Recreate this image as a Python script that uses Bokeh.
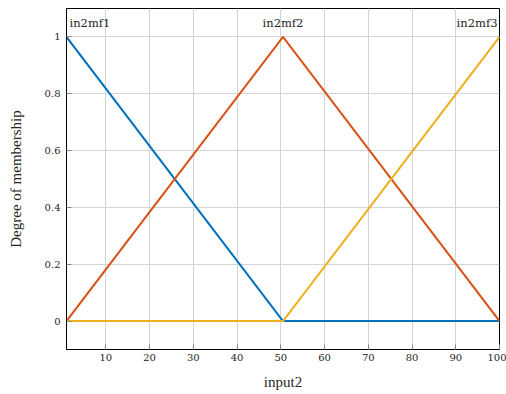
from bokeh.plotting import figure
from bokeh.models import FixedTicker, Range1d, Label
from bokeh.embed import file_html
from bokeh.resources import INLINE

# Data
x_pts = [1, 50.5, 100]
mf1 = [1, 0, 0]
mf2 = [0, 1, 0]
mf3 = [0, 0, 1]
mf_names = ["in2mf1", "in2mf2", "in2mf3"]
mf_peaks = [1, 50.5, 100]
x_ticks = [10, 20, 30, 40, 50, 60, 70, 80, 90, 100]
y_ticks = [0, 0.2, 0.4, 0.6, 0.8, 1]
y_tick_labels = ["0", "0.2", "0.4", "0.6", "0.8", "1"]

colors = ["#0072BD", "#D95319", "#EDB120"]
FONT = "DejaVu Serif"
FONT2 = "Liberation Serif"

p = figure(width=506, height=394, output_backend="svg", toolbar_location=None,
           x_range=Range1d(1, 100), y_range=Range1d(-0.1, 1.1),
           min_border_left=66, min_border_right=7, min_border_top=8, min_border_bottom=45)

for ys, c in zip([mf1, mf2, mf3], colors):
    p.line(x_pts, ys, line_color=c, line_width=2)

aligns = ["left", "center", "right"]
offs = [3, 0, -2]
for name, xp, al, off in zip(mf_names, mf_peaks, aligns, offs):
    p.add_layout(Label(x=xp, y=1.05, text=name, text_align=al, text_baseline="middle",
                       x_offset=off, text_font=FONT, text_font_size="11.5px",
                       text_color="#262626"))

p.xaxis.ticker = FixedTicker(ticks=x_ticks)
p.yaxis.ticker = FixedTicker(ticks=y_ticks)
p.yaxis.major_label_overrides = {t: l for t, l in zip(y_ticks, y_tick_labels)}

for ax in (p.xaxis, p.yaxis):
    ax.major_tick_in = 5
    ax.major_tick_out = 0
    ax.minor_tick_in = 0
    ax.minor_tick_out = 0
    ax.axis_line_color = "black"
    ax.major_tick_line_color = "#888888"
    ax.major_label_text_font = FONT
    ax.major_label_text_font_size = "10px"
    ax.major_label_text_font_style = "normal"
    ax.major_label_text_color = "#262626"
    ax.axis_label_text_font = FONT2
    ax.axis_label_text_font_size = "15px"
    ax.axis_label_text_font_style = "normal"
    ax.axis_label_text_color = "#262626"

p.xaxis.axis_label = "input2"
p.yaxis.axis_label = "Degree of membership"
p.xaxis.major_label_standoff = 4
p.yaxis.major_label_standoff = 6
p.xaxis.axis_label_standoff = 10
p.yaxis.axis_label_standoff = 18

p.grid.grid_line_color = "#d4d4d4"
p.grid.grid_line_width = 1
p.outline_line_color = "black"
p.outline_line_width = 1
p.background_fill_color = "white"
p.border_fill_color = "white"

open("out.html", "w").write(file_html(p, INLINE))
